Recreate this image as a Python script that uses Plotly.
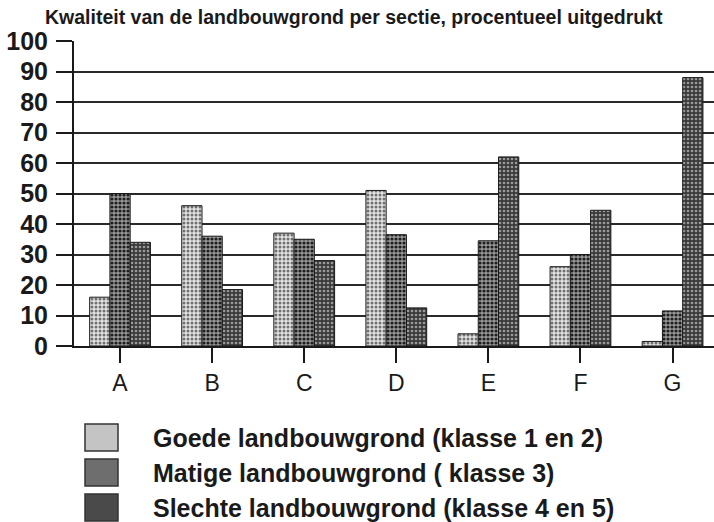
import plotly.graph_objects as go

categories = ["A", "B", "C", "D", "E", "F", "G"]
goede = [16, 46, 37, 51, 4, 26, 1.5]
matige = [50, 36, 35, 36.5, 34.5, 30, 11.5]
slechte = [34, 18.5, 28, 12.5, 62, 44.5, 88]
series_names = [
    "Goede landbouwgrond (klasse 1 en 2)",
    "Matige landbouwgrond ( klasse 3)",
    "Slechte landbouwgrond (klasse 4 en 5)",
]
y_ticks = [0, 10, 20, 30, 40, 50, 60, 70, 80, 90, 100]
title_text = "Kwaliteit van de landbouwgrond per sectie, procentueel uitgedrukt"

W, H = 714, 522
ML, MR, MT, MB = 74, 0, 41, 176
PW, PH = W - ML - MR, H - MT - MB

styles = [
    dict(bg="#e4e4e4", fg="#707070", size=4, sol=0.45, swatch="#c4c4c4"),
    dict(bg="#9a9a9a", fg="#1e1e1e", size=4, sol=0.5, swatch="#6e6e6e"),
    dict(bg="#3a3a3a", fg="#9a9a9a", size=4, sol=0.35, swatch="#4a4a4a"),
]

fig = go.Figure()
for name, vals, st in zip(series_names, [goede, matige, slechte], styles):
    fig.add_trace(go.Bar(
        x=categories, y=vals, name=name,
        marker=dict(
            color=st["bg"],
            line=dict(color="#1a1a1a", width=1),
            pattern=dict(shape=".", fgcolor=st["fg"], bgcolor=st["bg"],
                         size=st["size"], solidity=st["sol"], fillmode="replace"),
        ),
        showlegend=False,
    ))

def px_x(px):
    return (px - ML) / PW

def px_y(py):
    return (H - MB - py) / PH

shapes = []
annotations = []
sw_top = [424, 459, 494]
for i, (name, st) in enumerate(zip(series_names, styles)):
    t = sw_top[i]
    shapes.append(dict(type="rect", xref="paper", yref="paper",
                       x0=px_x(85), x1=px_x(118), y0=px_y(t), y1=px_y(t + 27),
                       fillcolor=st["swatch"], line=dict(color="#333", width=1.5)))
    annotations.append(dict(xref="paper", yref="paper", x=px_x(151), y=px_y(t + 14),
                            text=name, showarrow=False, xanchor="left", yanchor="middle",
                            font=dict(family="Liberation Sans", size=25, color="#1a1a1a",
                                      weight="bold")))

annotations.append(dict(xref="paper", yref="paper", x=px_x(354), y=px_y(17),
                        text=title_text, showarrow=False, xanchor="center", yanchor="middle",
                        font=dict(family="Liberation Sans", size=19.5, color="#1a1a1a",
                                  weight="bold")))

fig.update_layout(
    width=W, height=H,
    margin=dict(l=ML, r=MR, t=MT, b=MB),
    paper_bgcolor="white", plot_bgcolor="white",
    barmode="group", bargap=0.34, bargroupgap=0,
    shapes=shapes, annotations=annotations,
    showlegend=False,
)
fig.update_xaxes(
    type="category", range=[-0.5, 6.45],
    showline=True, linecolor="#1a1a1a", linewidth=2,
    ticks="outside", ticklen=15, tickwidth=1.5, tickcolor="#1a1a1a",
    ticklabelstandoff=0,
    tickfont=dict(family="Liberation Sans", size=23, color="#1a1a1a"),
    showgrid=False,
)
fig.update_yaxes(
    range=[0, 100], tickvals=y_ticks,
    showline=True, linecolor="#1a1a1a", linewidth=2,
    ticks="outside", ticklen=16, tickwidth=1.5, tickcolor="#1a1a1a",
    ticklabelstandoff=3,
    showgrid=True, gridcolor="#2a2a2a", gridwidth=1.5,
    tickfont=dict(family="Liberation Sans", size=25, color="#1a1a1a", weight="bold"),
    zeroline=False,
)

fig.write_html("out.html", config={"displayModeBar": False},
               post_script="document.body.style.margin='0';")
